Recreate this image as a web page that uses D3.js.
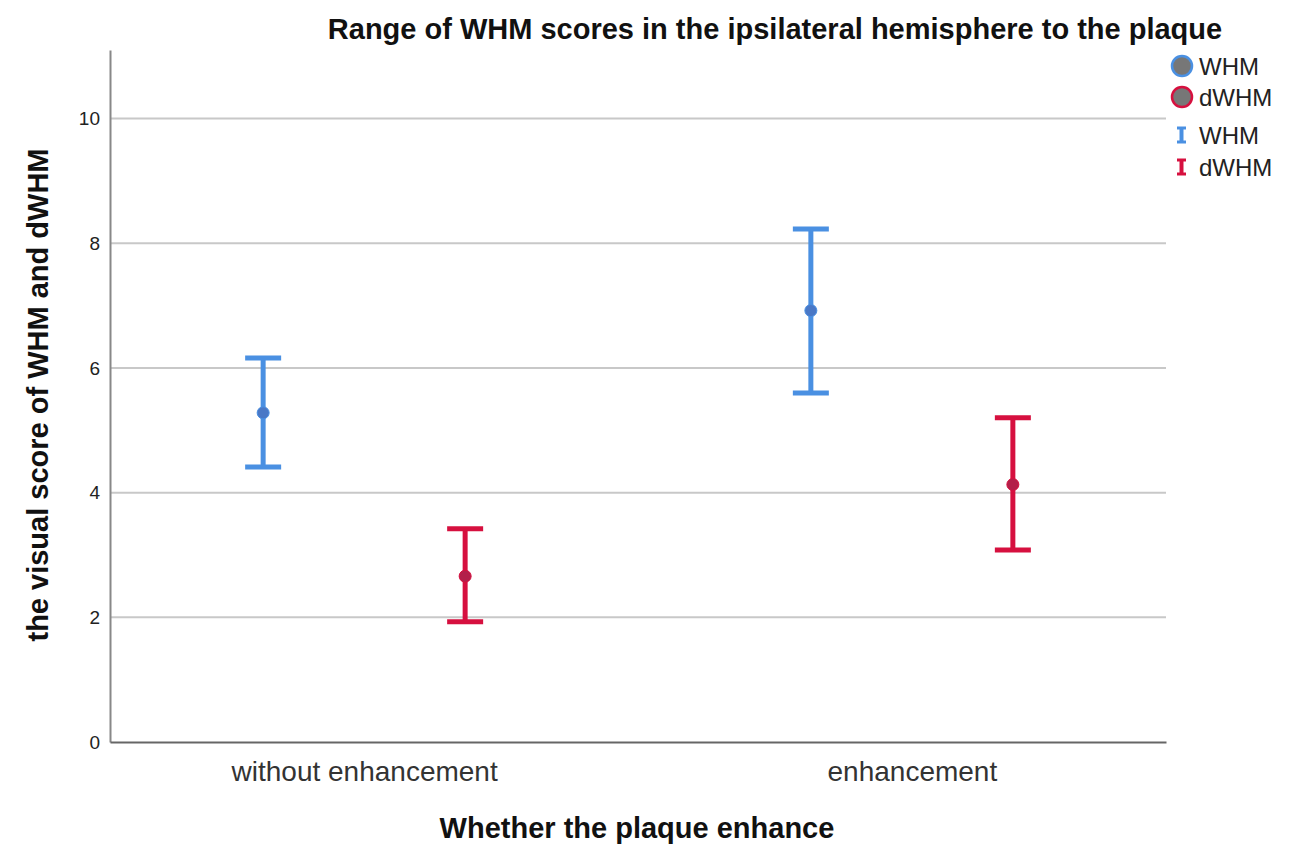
<!DOCTYPE html>
<html><head><meta charset="utf-8">
<script src="https://cdn.jsdelivr.net/npm/d3@7"></script>
<style>body{margin:0;background:#fff;} svg{display:block;font-family:"Liberation Sans",Arial,sans-serif;}</style>
</head><body>
<svg id="c" width="1299" height="867"></svg>
<script>
const categories = ["without enhancement", "enhancement"];
const seriesNames = ["WHM", "dWHM"];
const whmMean = [5.28, 6.92];
const whmLow = [4.41, 5.60];
const whmHigh = [6.16, 8.23];
const dwhmMean = [2.66, 4.13];
const dwhmLow = [1.93, 3.08];
const dwhmHigh = [3.42, 5.20];
const yTicks = [0, 2, 4, 6, 8, 10];

const colors = {WHM: "#4a90e2", dWHM: "#d6103f"};
const dotColors = {WHM: "#4a78c6", dWHM: "#b3204a"};

const svg = d3.select("#c");
const pLeft = 110, pRight = 1166, pTop = 50, pBottom = 742;
const y = d3.scaleLinear().domain([0, 11.1]).range([pBottom, pTop]);
const x = d3.scalePoint().domain(categories).range([pLeft, pRight]).padding(0.464);
const off = d3.scalePoint().domain(seriesNames).range([-101, 101]);

// gridlines
svg.append("g").selectAll("line").data(yTicks.filter(d => d > 0)).join("line")
  .attr("x1", pLeft).attr("x2", pRight).attr("y1", d => y(d)).attr("y2", d => y(d))
  .attr("stroke", "#c8c8c8").attr("stroke-width", 2);

// y axis
const ya = svg.append("g").attr("transform", `translate(${pLeft},0)`)
  .call(d3.axisLeft(y).tickValues(yTicks).tickSize(0).tickPadding(10));
ya.select(".domain").attr("stroke", "#888").attr("stroke-width", 2);
ya.selectAll("text").attr("font-size", 19).attr("fill", "#222").attr("font-family", "Liberation Sans, Arial, sans-serif");

// x axis
const xa = svg.append("g").attr("transform", `translate(0,${pBottom})`)
  .call(d3.axisBottom(x).tickSize(0).tickPadding(19));
xa.select(".domain").attr("stroke", "#666").attr("stroke-width", 2);
xa.selectAll("text").attr("font-size", 28).attr("fill", "#333").attr("font-family", "Liberation Sans, Arial, sans-serif");

const data = [];
categories.forEach((c, i) => {
  data.push({cat: c, s: "WHM", m: whmMean[i], lo: whmLow[i], hi: whmHigh[i]});
  data.push({cat: c, s: "dWHM", m: dwhmMean[i], lo: dwhmLow[i], hi: dwhmHigh[i]});
});

const g = svg.append("g").selectAll("g").data(data).join("g")
  .attr("transform", d => `translate(${x(d.cat) + off(d.s)},0)`);
g.append("line").attr("x1", 0).attr("x2", 0).attr("y1", d => y(d.lo)).attr("y2", d => y(d.hi))
  .attr("stroke", d => colors[d.s]).attr("stroke-width", 5);
g.append("line").attr("x1", -18).attr("x2", 18).attr("y1", d => y(d.hi)).attr("y2", d => y(d.hi))
  .attr("stroke", d => colors[d.s]).attr("stroke-width", 5);
g.append("line").attr("x1", -18).attr("x2", 18).attr("y1", d => y(d.lo)).attr("y2", d => y(d.lo))
  .attr("stroke", d => colors[d.s]).attr("stroke-width", 5);
g.append("circle").attr("cx", 0).attr("cy", d => y(d.m)).attr("r", 6)
  .attr("fill", d => dotColors[d.s]).attr("stroke", d => colors[d.s]).attr("stroke-width", 1);

// title & labels
svg.append("text").attr("x", 775).attr("y", 39).attr("text-anchor", "middle")
  .attr("font-size", 29).attr("font-weight", "bold").attr("fill", "#111")
  .text("Range of WHM scores in the ipsilateral hemisphere to the plaque");
svg.append("text").attr("transform", "translate(48,395) rotate(-90)").attr("text-anchor", "middle")
  .attr("font-size", 29).attr("font-weight", "bold").attr("fill", "#111")
  .text("the visual score of WHM and dWHM");
svg.append("text").attr("x", 637).attr("y", 838).attr("text-anchor", "middle")
  .attr("font-size", 29).attr("font-weight", "bold").attr("fill", "#111")
  .text("Whether the plaque enhance");

// legend
const lg = svg.append("g");
seriesNames.forEach((s, i) => {
  const cy = 66 + i * 31;
  lg.append("circle").attr("cx", 1182).attr("cy", cy).attr("r", 10)
    .attr("fill", "#777").attr("stroke", colors[s]).attr("stroke-width", 2.5);
  lg.append("text").attr("x", 1199).attr("y", cy + 9).attr("font-size", 24).attr("fill", "#222").text(s);
});
seriesNames.forEach((s, i) => {
  const cy = 135 + i * 32;
  const c = colors[s];
  lg.append("line").attr("x1", 1181.5).attr("x2", 1181.5).attr("y1", cy - 8).attr("y2", cy + 8).attr("stroke", c).attr("stroke-width", 4);
  lg.append("line").attr("x1", 1177).attr("x2", 1186).attr("y1", cy - 7).attr("y2", cy - 7).attr("stroke", c).attr("stroke-width", 3);
  lg.append("line").attr("x1", 1177).attr("x2", 1186).attr("y1", cy + 7).attr("y2", cy + 7).attr("stroke", c).attr("stroke-width", 3);
  lg.append("text").attr("x", 1199).attr("y", cy + 9).attr("font-size", 24).attr("fill", "#222").text(s);
});
</script>
</body></html>
